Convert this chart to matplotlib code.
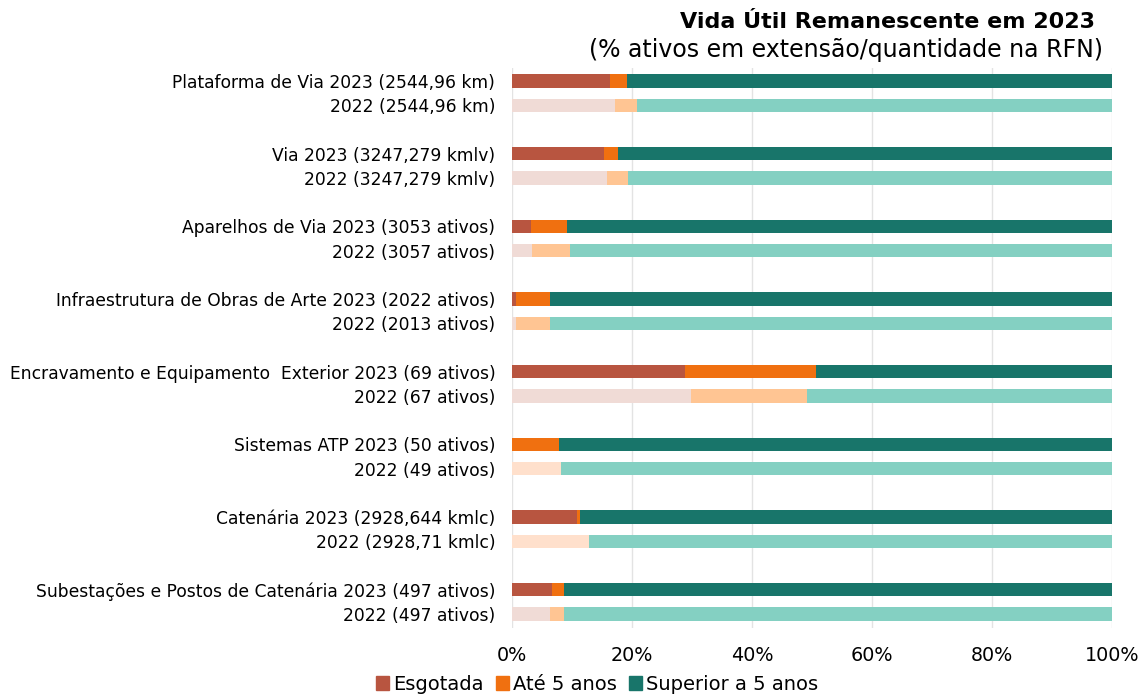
import matplotlib.pyplot as plt
import numpy as np

plt.rcParams['font.family'] = ['DejaVu Sans']

labels = [
    "Plataforma de Via 2023 (2544,96 km)", "2022 (2544,96 km)",
    "Via 2023 (3247,279 kmlv)", "2022 (3247,279 kmlv)",
    "Aparelhos de Via 2023 (3053 ativos)", "2022 (3057 ativos)",
    "Infraestrutura de Obras de Arte 2023 (2022 ativos)", "2022 (2013 ativos)",
    "Encravamento e Equipamento  Exterior 2023 (69 ativos)", "2022 (67 ativos)",
    "Sistemas ATP 2023 (50 ativos)", "2022 (49 ativos)",
    "Catenária 2023 (2928,644 kmlc)", "2022 (2928,71 kmlc)",
    "Subestações e Postos de Catenária 2023 (497 ativos)", "2022 (497 ativos)",
]
esgotada = [16.4, 17.2, 15.4, 15.8, 3.2, 3.3, 0.6, 0.7, 28.8, 29.8, 0.0, 0.0, 10.9, 0.0, 6.7, 6.3]
ate5 = [2.7, 3.7, 2.2, 3.5, 6.0, 6.3, 5.8, 5.7, 21.8, 19.3, 7.9, 8.2, 0.4, 12.8, 2.0, 2.4]
superior = [100 - a - b for a, b in zip(esgotada, ate5)]

# colours: 2023 rows dark, 2022 rows light
c_esg = ["#B85540", "#F0DBD6"]
c_ate = ["#F07010", "#FFC593"]
c_sup = ["#18756A", "#84D0C2"]
peach = "#FFE0CC"  # lighter "até 5" used on two 2022 rows

ypos = np.array([3 * (i // 2) + (i % 2) for i in range(len(labels))], dtype=float)

fig = plt.figure(figsize=(11.45, 6.95), dpi=100)
ax = fig.add_axes([512 / 1145, 1 - 628 / 695, 600 / 1145, 560 / 695])

h = 0.55
for i, y in enumerate(ypos):
    k = i % 2
    ca = c_ate[k]
    if labels[i] in ("2022 (49 ativos)", "2022 (2928,71 kmlc)"):
        ca = peach
    ax.barh(y, esgotada[i], height=h, color=c_esg[k], zorder=3)
    ax.barh(y, ate5[i], left=esgotada[i], height=h, color=ca, zorder=3)
    ax.barh(y, superior[i], left=esgotada[i] + ate5[i], height=h, color=c_sup[k], zorder=3)

ax.set_xlim(0, 100)
ax.set_ylim(22.58, -0.54)
ax.set_yticks(ypos)
ax.set_yticklabels(labels, fontsize=12.3)
ax.set_xticks(np.arange(0, 101, 20))
ax.set_xticklabels([f"{v}%" for v in range(0, 101, 20)], fontsize=13.8)
ax.tick_params(length=0, pad=13)
ax.tick_params(axis='y', pad=12)
for s in ax.spines.values():
    s.set_visible(False)
ax.grid(axis='x', color='#E3E3E3', linewidth=1, zorder=0)

fig.text(1095 / 1145, 1 - 22 / 695, "Vida Útil Remanescente em 2023", ha='right', va='center',
         fontsize=16, fontweight='bold')
fig.text(1103 / 1145, 1 - 50 / 695, "(% ativos em extensão/quantidade na RFN)", ha='right',
         va='center', fontsize=17)

handles = [plt.Rectangle((0, 0), 1, 1, color=c) for c in (c_esg[0], c_ate[0], c_sup[0])]
fig.legend(handles, ["Esgotada", "Até 5 anos", "Superior a 5 anos"], loc='center',
           bbox_to_anchor=(597 / 1145, 1 - 684 / 695), ncol=3, frameon=False, fontsize=14,
           handlelength=0.7, handleheight=0.7, handletextpad=0.2, columnspacing=0.6)

fig.savefig("out.png", dpi=100)
